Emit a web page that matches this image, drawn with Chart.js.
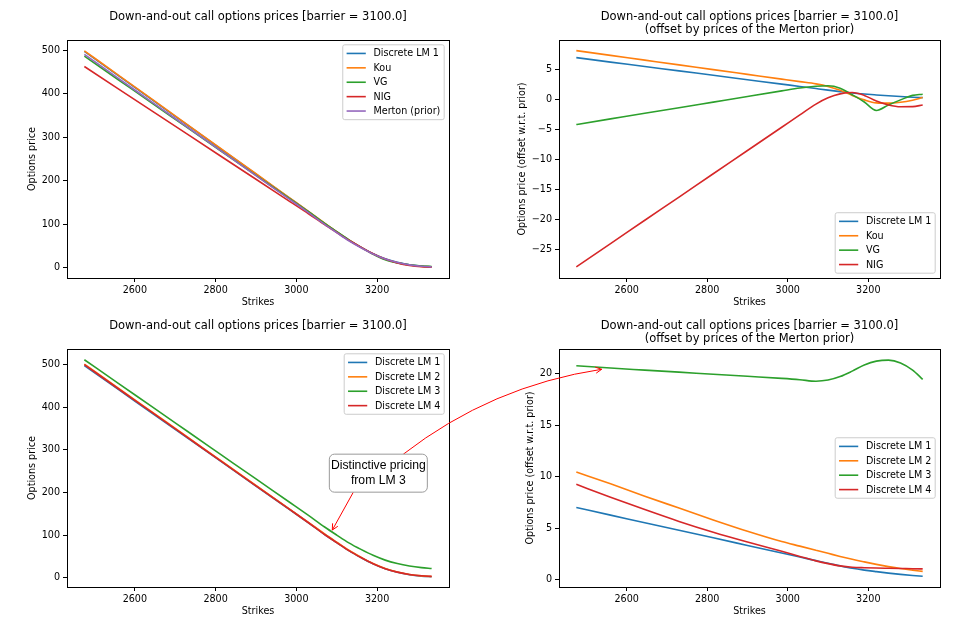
<!DOCTYPE html>
<html>
<head>
<meta charset="utf-8">
<script src="https://cdn.jsdelivr.net/npm/chart.js@4.4.1/dist/chart.umd.min.js"></script>
<style>
  html, body { margin: 0; padding: 0; background: #fff; }
  #fig { position: relative; width: 977px; height: 619px; }
  #fig canvas { position: absolute; left: 0; top: 0; }
</style>
</head>
<body>
<div id="fig">
  <canvas id="tl" width="977" height="619"></canvas>
  <canvas id="tr" width="977" height="619"></canvas>
  <canvas id="br" width="977" height="619"></canvas>
  <canvas id="bl" width="977" height="619"></canvas>
</div>
<script>
/* data */
const strikes = [2475, 2560, 2645, 2730, 2815, 2900, 2985, 3030, 3070, 3100, 3130, 3160, 3190, 3220, 3250, 3280, 3310, 3335];

// top left: prices
const lm1Price    = [497.0, 440.6, 384.2, 327.8, 271.4, 214.9, 158.6, 128.7, 101.3, 82.1, 63.3, 47.1, 32.4, 20.8, 12.6, 7.0, 3.7, 2.3];
const kouPrice    = [498.2, 441.7, 385.3, 328.8, 272.3, 215.8, 159.4, 129.5, 102.2, 82.7, 63.6, 46.7, 31.5, 19.5, 11.4, 6.1, 3.2, 2.3];
const vgPrice     = [485.8, 431.1, 376.4, 321.6, 266.9, 212.1, 157.5, 128.5, 101.8, 82.8, 63.9, 46.8, 31.1, 18.2, 11.1, 6.5, 4.0, 2.9];
const nigPrice    = [462.1, 410.3, 358.5, 306.7, 254.9, 203.1, 151.4, 124.0, 98.8, 80.8, 63.0, 47.2, 32.2, 19.8, 11.1, 5.3, 2.1, 1.1];
const mertonPrice = [490.0, 434.3, 378.7, 323.0, 267.3, 211.6, 156.0, 126.5, 99.5, 80.5, 62.0, 46.0, 31.5, 20.0, 12.0, 6.5, 3.3, 2.0];

// top right: offsets wrt Merton prior
const lm1Off = [7.00, 6.26, 5.53, 4.79, 4.06, 3.32, 2.58, 2.19, 1.84, 1.58, 1.33, 1.10, 0.92, 0.77, 0.63, 0.51, 0.40, 0.32];
const kouOff = [8.17, 7.38, 6.59, 5.80, 5.00, 4.21, 3.42, 3.00, 2.62, 2.20, 1.55, 0.70, -0.05, -0.55, -0.60, -0.45, -0.10, 0.33];
const vgOff  = [-4.17, -3.23, -2.29, -1.36, -0.42, 0.52, 1.45, 1.93, 2.22, 2.30, 1.90, 0.80, -0.40, -1.82, -0.90, -0.05, 0.70, 0.90];
const nigOff = [-27.93, -24.05, -20.16, -16.28, -12.39, -8.51, -4.62, -2.55, -0.75, 0.30, 0.95, 1.18, 0.70, -0.25, -0.90, -1.20, -1.18, -0.90];

// bottom left: prices of the discrete LMs
const dlm2Price = [500.5, 443.6, 386.8, 330.0, 273.1, 216.3, 159.7, 129.8, 102.4, 83.1, 64.3, 48.0, 33.2, 21.5, 13.3, 7.6, 4.2, 2.8];
const dlm3Price = [510.8, 454.9, 399.1, 343.2, 287.3, 231.4, 175.6, 145.9, 118.8, 99.9, 81.7, 66.3, 52.4, 41.2, 33.3, 27.6, 23.7, 21.5];
const dlm4Price = [499.3, 442.3, 385.5, 328.7, 271.9, 215.3, 158.8, 128.8, 101.3, 82.1, 63.3, 47.2, 32.7, 21.1, 13.1, 7.6, 4.4, 3.0];

// bottom right: offsets of the discrete LMs
const dlm2Off = [10.45, 9.30, 8.10, 6.95, 5.80, 4.70, 3.70, 3.25, 2.85, 2.55, 2.25, 1.97, 1.72, 1.48, 1.26, 1.07, 0.92, 0.80];
const dlm3Off = [20.78, 20.55, 20.35, 20.15, 19.95, 19.75, 19.55, 19.42, 19.27, 19.38, 19.72, 20.25, 20.85, 21.22, 21.32, 21.05, 20.35, 19.45];
const dlm4Off = [9.25, 8.00, 6.80, 5.65, 4.60, 3.65, 2.75, 2.25, 1.82, 1.55, 1.33, 1.20, 1.15, 1.12, 1.10, 1.08, 1.06, 1.04];

const xTicks      = [2600, 2800, 3000, 3200];
const priceTicks  = [0, 100, 200, 300, 400, 500];
const offTicksTop = [-25, -20, -15, -10, -5, 0, 5];
const offTicksBot = [0, 5, 10, 15, 20];

const mainTitle = 'Down-and-out call options prices [barrier = 3100.0]';
const subTitle  = '(offset by prices of the Merton prior)';

const C = { blue: '#1f77b4', orange: '#ff7f0e', green: '#2ca02c', red: '#d62728', purple: '#9467bd' };
const FONT = 'DejaVu Sans';

function series(label, values, color) {
  return { label, data: values.map((v, i) => ({ x: strikes[i], y: v })), borderColor: color, color };
}

/* matplotlib-like frame, titles, labels and legend */
const mplDecor = {
  id: 'mplDecor',
  afterDraw(chart, args, o) {
    const ctx = chart.ctx, a = chart.chartArea;
    const cx = (a.left + a.right) / 2;
    ctx.save();
    ctx.strokeStyle = '#000';
    ctx.lineWidth = 1;
    ctx.strokeRect(Math.round(a.left) + 0.5, Math.round(a.top) + 0.5, Math.round(a.right - a.left), Math.round(a.bottom - a.top));

    ctx.fillStyle = '#000';
    ctx.textAlign = 'center';
    ctx.textBaseline = 'middle';
    ctx.font = '11.5px "' + FONT + '"';
    o.title.forEach((t, i) => ctx.fillText(t, cx, a.top - 23.3 + i * 13.3));

    ctx.font = '9.6px "' + FONT + '"';
    ctx.fillText('Strikes', cx, a.bottom + 24);
    ctx.save();
    ctx.translate(o.yLabelX, (a.top + a.bottom) / 2);
    ctx.rotate(-Math.PI / 2);
    ctx.fillText(o.yLabel, 0, 0);
    ctx.restore();

    // legend
    const fs = 9.6, pad = 0.4 * fs, hl = 2 * fs, gap = 0.8 * fs, row = 1.5 * fs;
    const ds = chart.data.datasets;
    ctx.font = fs + 'px "' + FONT + '"';
    const tw = Math.max(...ds.map(d => ctx.measureText(d.label).width));
    const w = pad * 2 + hl + gap + tw;
    const h = pad * 2 + ds.length * fs + (ds.length - 1) * 0.5 * fs;
    const x = a.right - 0.5 * fs - w;
    let y;
    if (o.legend === 'upper') y = a.top + 0.5 * fs;
    else if (o.legend === 'lower') y = a.bottom - 0.5 * fs - h;
    else y = (a.top + a.bottom) / 2 - h / 2;
    ctx.beginPath();
    ctx.roundRect(x, y, w, h, 2);
    ctx.fillStyle = 'rgba(255,255,255,0.8)';
    ctx.fill();
    ctx.strokeStyle = '#cccccc';
    ctx.lineWidth = 1;
    ctx.stroke();
    ctx.textAlign = 'left';
    ds.forEach((d, i) => {
      const ly = y + pad + fs / 2 + i * row;
      ctx.strokeStyle = d.color;
      ctx.lineWidth = 1.6;
      ctx.beginPath();
      ctx.moveTo(x + pad, ly);
      ctx.lineTo(x + pad + hl, ly);
      ctx.stroke();
      ctx.fillStyle = '#000';
      ctx.fillText(d.label, x + pad + hl + gap, ly + 0.5);
    });
    ctx.restore();
  }
};

function makeChart(id, cfg) {
  const n = cfg.datasets.length;
  const datasets = cfg.datasets.map((d, i) => Object.assign(d, {
    borderWidth: 1.6, pointRadius: 0, fill: false,
    cubicInterpolationMode: 'monotone', order: n - i
  }));
  const tickFont = { family: FONT, size: 9.6 };
  return new Chart(document.getElementById(id), {
    type: 'line',
    data: { datasets },
    plugins: [mplDecor].concat(cfg.extra || []),
    options: {
      responsive: false,
      animation: false,
      events: [],
      layout: { padding: { left: cfg.box[0] - 40, top: cfg.box[1], right: 977 - cfg.box[2], bottom: 619 - cfg.box[3] - 25 } },
      scales: {
        x: {
          type: 'linear', min: 2432, max: 3378,
          afterFit: s => { s.height = 25; },
          afterBuildTicks: s => { s.ticks = xTicks.map(v => ({ value: v })); },
          grid: { drawOnChartArea: false, drawTicks: true, tickLength: 4, color: '#000', lineWidth: 1 },
          border: { display: false },
          ticks: { font: tickFont, color: '#000', padding: 3, maxRotation: 0, callback: v => String(v) }
        },
        y: {
          type: 'linear', min: cfg.yMin, max: cfg.yMax,
          afterFit: s => { s.width = 40; },
          afterBuildTicks: s => { s.ticks = cfg.yTicks.map(v => ({ value: v })); },
          grid: { drawOnChartArea: false, drawTicks: true, tickLength: 4, color: '#000', lineWidth: 1 },
          border: { display: false },
          ticks: { font: tickFont, color: '#000', padding: 3, callback: v => String(v).replace('-', '\u2212') }
        }
      },
      plugins: {
        legend: { display: false },
        tooltip: { enabled: false },
        mplDecor: { title: cfg.title, yLabel: cfg.yLabel, yLabelX: cfg.yLabelX, legend: cfg.legend }
      }
    }
  });
}

makeChart('tl', {
  box: [67, 40, 449, 278], yMin: -23.6, yMax: 523, yTicks: priceTicks,
  title: [mainTitle], yLabel: 'Options price', yLabelX: 32, legend: 'upper',
  datasets: [
    series('Discrete LM 1', lm1Price, C.blue),
    series('Kou', kouPrice, C.orange),
    series('VG', vgPrice, C.green),
    series('NIG', nigPrice, C.red),
    series('Merton (prior)', mertonPrice, C.purple)
  ]
});

makeChart('tr', {
  box: [559, 40, 940, 278], yMin: -29.8, yMax: 9.95, yTicks: offTicksTop,
  title: [mainTitle, subTitle], yLabel: 'Options price (offset w.r.t. prior)', yLabelX: 522.3, legend: 'lower',
  datasets: [
    series('Discrete LM 1', lm1Off, C.blue),
    series('Kou', kouOff, C.orange),
    series('VG', vgOff, C.green),
    series('NIG', nigOff, C.red)
  ]
});

const brChart = makeChart('br', {
  box: [559, 349, 940, 587], yMin: -0.72, yMax: 22.4, yTicks: offTicksBot,
  title: [mainTitle, subTitle], yLabel: 'Options price (offset w.r.t. prior)', yLabelX: 530.7, legend: 'center',
  datasets: [
    series('Discrete LM 1', lm1Off, C.blue),
    series('Discrete LM 2', dlm2Off, C.orange),
    series('Discrete LM 3', dlm3Off, C.green),
    series('Discrete LM 4', dlm4Off, C.red)
  ]
});

/* annotation: text box in the bottom-left axes, arrows to LM 3 in both bottom plots */
const note = { text: ['Distinctive pricing', 'from LM 3'], at: [3203, 245], tipLeft: [3089, 111.7], tipRight: [2538, 20.43] };

function arrowHead(ctx, x, y, ang) {
  const L = 6, W = 3;
  ctx.beginPath();
  ctx.moveTo(x - L * Math.cos(ang) + W * Math.sin(ang), y - L * Math.sin(ang) - W * Math.cos(ang));
  ctx.lineTo(x, y);
  ctx.lineTo(x - L * Math.cos(ang) - W * Math.sin(ang), y - L * Math.sin(ang) + W * Math.cos(ang));
  ctx.stroke();
}

const annotate = {
  id: 'annotate',
  afterDraw(chart) {
    const ctx = chart.ctx;
    const bx = chart.scales.x.getPixelForValue(note.at[0]);
    const by = chart.scales.y.getPixelForValue(note.at[1]);
    const w = 98, h = 38;
    ctx.save();
    ctx.strokeStyle = 'red';
    ctx.lineWidth = 1;
    // straight arrow to LM 3 in this plot
    const s1 = [bx - 25, by + h / 2];
    const t1 = [chart.scales.x.getPixelForValue(note.tipLeft[0]), chart.scales.y.getPixelForValue(note.tipLeft[1])];
    ctx.beginPath();
    ctx.moveTo(s1[0], s1[1]);
    ctx.lineTo(t1[0], t1[1]);
    ctx.stroke();
    arrowHead(ctx, t1[0], t1[1], Math.atan2(t1[1] - s1[1], t1[0] - s1[0]));
    // curved arrow to LM 3 in the right plot
    const s2 = [bx + 25, by - h / 2];
    const t2 = [brChart.scales.x.getPixelForValue(note.tipRight[0]), brChart.scales.y.getPixelForValue(note.tipRight[1])];
    const dx = t2[0] - s2[0], dy = t2[1] - s2[1], rad = 0.13;
    const c = [(s2[0] + t2[0]) / 2 + rad * dy, (s2[1] + t2[1]) / 2 - rad * dx];
    ctx.beginPath();
    ctx.moveTo(s2[0], s2[1]);
    ctx.quadraticCurveTo(c[0], c[1], t2[0], t2[1]);
    ctx.stroke();
    arrowHead(ctx, t2[0], t2[1], Math.atan2(t2[1] - c[1], t2[0] - c[0]));
    // text box
    ctx.beginPath();
    ctx.roundRect(bx - w / 2, by - h / 2, w, h, 5);
    ctx.fillStyle = '#fff';
    ctx.fill();
    ctx.strokeStyle = '#999';
    ctx.stroke();
    ctx.fillStyle = '#000';
    ctx.font = '12.2px "Liberation Sans"';
    ctx.textAlign = 'center';
    ctx.textBaseline = 'middle';
    ctx.fillText(note.text[0], bx, by - 7.3);
    ctx.fillText(note.text[1], bx, by + 7.5);
    ctx.restore();
  }
};

makeChart('bl', {
  box: [67, 349, 449, 587], yMin: -21.8, yMax: 536, yTicks: priceTicks,
  title: [mainTitle], yLabel: 'Options price', yLabelX: 32, legend: 'upper',
  extra: [annotate],
  datasets: [
    series('Discrete LM 1', lm1Price, C.blue),
    series('Discrete LM 2', dlm2Price, C.orange),
    series('Discrete LM 3', dlm3Price, C.green),
    series('Discrete LM 4', dlm4Price, C.red)
  ]
});
</script>
</body>
</html>
